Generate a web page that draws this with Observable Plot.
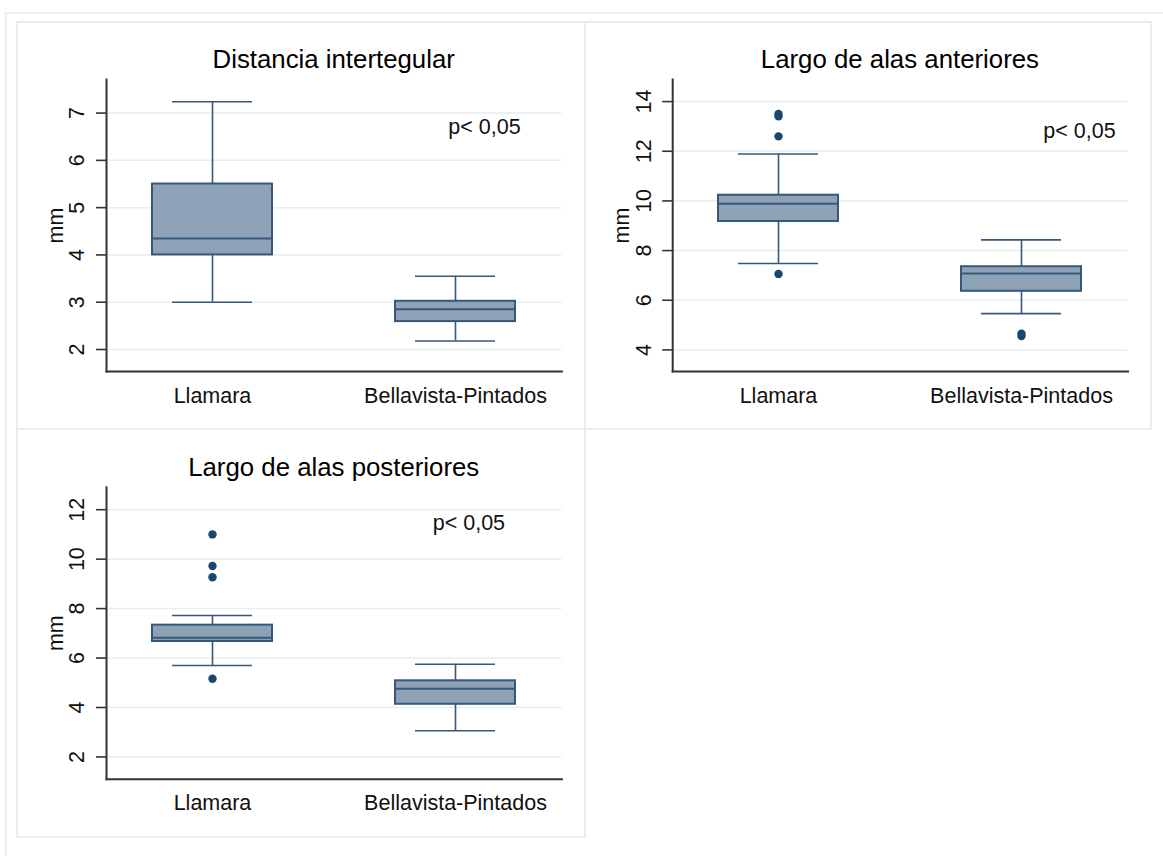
<!DOCTYPE html>
<html><head><meta charset="utf-8">
<script src="https://cdn.jsdelivr.net/npm/d3@7"></script>
<script src="https://cdn.jsdelivr.net/npm/@observablehq/plot@0.6"></script>
<style>
body{margin:0;background:#fff;font-family:Arial,"Liberation Sans",sans-serif;}
#page{position:relative;width:1163px;height:856px;overflow:hidden;background:#fff;}
.outer{position:absolute;left:5px;top:12px;width:1300px;height:1000px;border-top:2px solid #e8eef1;border-left:2px solid #e8eef1;}
.panel{position:absolute;box-sizing:border-box;border:2px solid #e8eef1;}
.title{position:absolute;font-size:25.8px;line-height:1;white-space:nowrap;transform:translateX(-50%);color:#000;}
.chart{position:absolute;}
</style></head><body><div id="page"><div class="outer"></div></div>
<script>
// ---- data ----
const sites = ["Llamara", "Bellavista-Pintados"];
const yLabel = "mm";
const pText = "p< 0,05";

// Distancia intertegular
const itdTitle = "Distancia intertegular";
const itdLow = [3.00, 2.18];
const itdQ1 = [4.00, 2.59];
const itdMedian = [4.35, 2.85];
const itdQ3 = [5.50, 3.02];
const itdHigh = [7.24, 3.55];
const itdOutliers = [[], []];
const itdTicks = [2, 3, 4, 5, 6, 7];

// Largo de alas anteriores
const antTitle = "Largo de alas anteriores";
const antLow = [7.48, 5.46];
const antQ1 = [9.17, 6.36];
const antMedian = [9.89, 7.08];
const antQ3 = [10.23, 7.35];
const antHigh = [11.89, 8.43];
const antOutliers = [[13.50, 13.41, 12.60, 7.06], [4.65, 4.56]];
const antTicks = [4, 6, 8, 10, 12, 14];

// Largo de alas posteriores
const posTitle = "Largo de alas posteriores";
const posLow = [5.70, 3.06];
const posQ1 = [6.67, 4.13];
const posMedian = [6.82, 4.76];
const posQ3 = [7.33, 5.08];
const posHigh = [7.72, 5.75];
const posOutliers = [[11.00, 9.72, 9.27, 5.16], []];
const posTicks = [2, 4, 6, 8, 10, 12];

// ---- style ----
const boxFill = "#8da2b6";
const boxStroke = "#36587a";
const dotFill = "#1a476f";
const gridColor = "#e6eef0";
const axisColor = "#333333";
const font = "Arial, 'Liberation Sans', sans-serif";

const page = document.getElementById("page");

function panelBox(left, top, w, h) {
  const d = document.createElement("div");
  d.className = "panel";
  Object.assign(d.style, {left: left + "px", top: top + "px", width: w + "px", height: h + "px"});
  page.appendChild(d);
}

function boxChart(cfg) {
  const stats = sites.map((s, i) => ({site: s, lo: cfg.lo[i], q1: cfg.q1[i], med: cfg.med[i], q3: cfg.q3[i], hi: cfg.hi[i]}));
  const outs = cfg.outliers.flatMap((arr, i) => arr.map(v => ({site: sites[i], v})));
  const L = cfg.layout;
  const chart = Plot.plot({
    width: L.w, height: L.h,
    marginLeft: L.ml, marginRight: L.mr, marginTop: L.mt, marginBottom: L.mb,
    style: {fontFamily: font, fontSize: "21px", color: "#111", background: "transparent", overflow: "visible"},
    x: {domain: sites, paddingInner: 0.506, paddingOuter: 0.19},
    y: {domain: cfg.domain},
    marks: [
      Plot.gridY(cfg.ticks, {stroke: gridColor, strokeOpacity: 1, strokeWidth: 1.5}),
      Plot.axisY({ticks: cfg.ticks, tickSize: 10, tickFormat: () => "", label: null, stroke: axisColor, strokeWidth: 1.6}),
      Plot.text(cfg.ticks, {y: d => d, text: d => String(d), frameAnchor: "left", dx: -29, rotate: -90, textAnchor: "middle", lineAnchor: "middle", fontSize: 21.5, fill: "#111"}),
      Plot.text([yLabel], {frameAnchor: "left", dx: -50.5, rotate: -90, textAnchor: "middle", lineAnchor: "middle", fontSize: 21.5, fill: "#111", text: d => d}),
      Plot.axisX({tickSize: 0, tickPadding: 16, fontSize: 21.5, label: null, fill: "#111"}),
      Plot.ruleX(stats, {x: "site", y1: "lo", y2: "hi", stroke: boxStroke, strokeWidth: 1.6}),
      Plot.tickY(stats, {x: "site", y: "lo", insetLeft: 20, insetRight: 20, stroke: boxStroke, strokeWidth: 1.6}),
      Plot.tickY(stats, {x: "site", y: "hi", insetLeft: 20, insetRight: 20, stroke: boxStroke, strokeWidth: 1.6}),
      Plot.barY(stats, {x: "site", y1: "q1", y2: "q3", fill: boxFill, stroke: boxStroke, strokeWidth: 2}),
      Plot.tickY(stats, {x: "site", y: "med", stroke: boxStroke, strokeWidth: 2}),
      Plot.dot(outs, {x: "site", y: "v", r: 4.2, fill: dotFill}),
      Plot.text([pText], {x: () => sites[1], y: () => cfg.pY, dx: cfg.pDx, text: d => d, fontSize: 21.5, fill: "#111"}),
      Plot.frame({anchor: "left", stroke: axisColor, strokeWidth: 2}),
      Plot.frame({anchor: "bottom", stroke: axisColor, strokeWidth: 2})
    ]
  });
  const wrap = document.createElement("div");
  wrap.className = "chart";
  wrap.style.left = L.left + "px";
  wrap.style.top = L.top + "px";
  wrap.appendChild(chart);
  page.appendChild(wrap);

  const t = document.createElement("div");
  t.className = "title";
  t.textContent = cfg.title;
  t.style.left = (L.left + L.ml + (L.w - L.ml - L.mr) / 2) + "px";
  t.style.top = (L.top - 28.8) + "px";
  page.appendChild(t);
}

panelBox(16, 21, 570, 409);
panelBox(584, 21, 568, 409);
panelBox(16, 428, 570, 410);

boxChart({
  title: itdTitle, lo: itdLow, q1: itdQ1, med: itdMedian, q3: itdQ3, hi: itdHigh,
  outliers: itdOutliers, ticks: itdTicks, domain: [1.535, 7.71], pY: 6.71, pDx: 29,
  layout: {left: 18, top: 76, w: 566, h: 344, ml: 88, mr: 22.6, mt: 3, mb: 49}
});
boxChart({
  title: antTitle, lo: antLow, q1: antQ1, med: antMedian, q3: antQ3, hi: antHigh,
  outliers: antOutliers, ticks: antTicks, domain: [3.13, 14.89], pY: 12.8, pDx: 58,
  layout: {left: 586, top: 76, w: 564, h: 344, ml: 86.2, mr: 22.4, mt: 3, mb: 49}
});
boxChart({
  title: posTitle, lo: posLow, q1: posQ1, med: posMedian, q3: posQ3, hi: posHigh,
  outliers: posOutliers, ticks: posTicks, domain: [1.10, 12.91], pY: 11.47, pDx: 13.4,
  layout: {left: 18, top: 484, w: 566, h: 344, ml: 88, mr: 22.6, mt: 2.7, mb: 49.3}
});
</script></body></html>
